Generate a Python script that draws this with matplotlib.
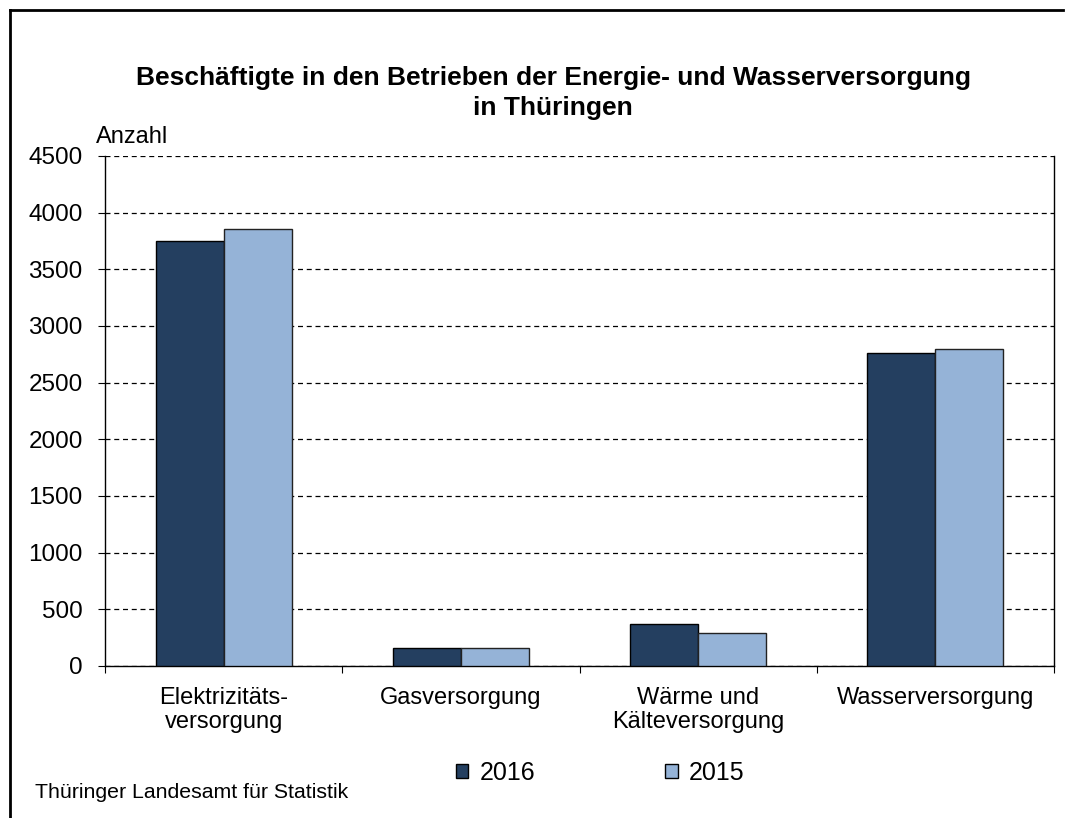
import matplotlib.pyplot as plt
import numpy as np
from matplotlib.lines import Line2D
from matplotlib.patches import Patch

plt.rcParams["font.family"] = ["Liberation Sans", "DejaVu Sans"]

CATEGORIES = ["Elektrizitäts-\nversorgung", "Gasversorgung", "Wärme und\nKälteversorgung", "Wasserversorgung"]
VALUES_2016 = [3750, 160, 375, 2760]
VALUES_2015 = [3860, 155, 295, 2800]
YEARS = ["2016", "2015"]
Y_TICKS = [0, 500, 1000, 1500, 2000, 2500, 3000, 3500, 4000, 4500]

COLOR_2016 = "#243f60"
COLOR_2015 = "#95b3d7"

fig = plt.figure(figsize=(10.72, 8.18), dpi=100)
ax = fig.add_axes([105 / 1072, 1 - 666 / 818, 949 / 1072, 510 / 818])

x = np.arange(len(CATEGORIES))
width = 0.287
ax.bar(x - width / 2, VALUES_2016, width, color=COLOR_2016, edgecolor="black", linewidth=1.0, zorder=3)
ax.bar(x + width / 2, VALUES_2015, width, color=COLOR_2015, edgecolor="#222222", linewidth=1.0, zorder=3)

ax.set_xlim(-0.5, len(CATEGORIES) - 0.5)
ax.set_ylim(0, 4500)
ax.set_yticks(Y_TICKS)
ax.tick_params(axis="y", labelsize=17.5, length=5, width=0.8, pad=11)
ax.yaxis.grid(True, linestyle=(0, (4, 3)), color="black", linewidth=0.9, zorder=0)

# category labels centred, ticks at the group boundaries
ax.set_xticks(x)
ax.set_xticklabels(CATEGORIES, fontsize=17, linespacing=1.15)
ax.tick_params(axis="x", length=0, pad=15)
ax.set_xticks(np.arange(len(CATEGORIES) + 1) - 0.5, minor=True)
ax.tick_params(axis="x", which="minor", length=5, width=0.8, direction="out")

for side in ["left", "bottom", "right"]:
    ax.spines[side].set_color("black")
    ax.spines[side].set_linewidth(1.0)
ax.spines["top"].set_visible(False)

ax.text(96 / 949 - 105 / 949, 1.015, "Anzahl", transform=ax.transAxes, fontsize=17, va="bottom", ha="left")

fig.text(553 / 1072, 1 - 93 / 818, "Beschäftigte in den Betrieben der Energie- und Wasserversorgung\nin Thüringen",
         ha="center", va="center", fontsize=19, fontweight="bold", linespacing=1.3)

handles = [Patch(facecolor=COLOR_2016, edgecolor="black"), Patch(facecolor=COLOR_2015, edgecolor="black")]
fig.legend(handles, YEARS, loc="center", bbox_to_anchor=(600 / 1072, 1 - 773 / 818), ncol=2, frameon=False,
           fontsize=18, handlelength=0.5, handleheight=0.5, handletextpad=0.45, columnspacing=5.2)

fig.text(35 / 1072, 1 - 793 / 818, "Thüringer Landesamt für Statistik", fontsize=15.3, va="center", ha="left")

# outer frame (left and top edges visible)
fig.add_artist(Line2D([10 / 1072, 10 / 1072], [0, 1 - 10 / 818], transform=fig.transFigure, color="black", linewidth=2))
fig.add_artist(Line2D([10 / 1072, 1063 / 1072], [1 - 10 / 818, 1 - 10 / 818], transform=fig.transFigure, color="black", linewidth=2))

fig.savefig("out.png", dpi=100)
